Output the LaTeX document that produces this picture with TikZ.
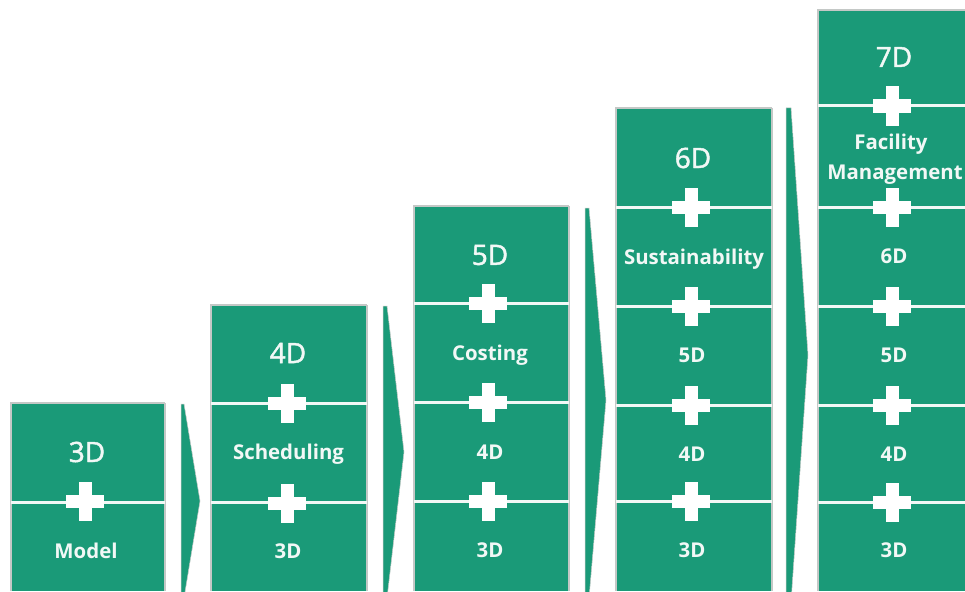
\documentclass[tikz,border=0pt]{standalone}
\usepackage{fontspec}
\setmainfont{Open Sans}
\newfontfamily\bigface[FakeBold=1.6]{Open Sans}
\definecolor{bimgreen}{HTML}{1A9A78}
\definecolor{edgegrey}{HTML}{C4C8C6}
\definecolor{softwhite}{HTML}{F2F8F6}
\tikzset{
  x=1pt,y=-1pt,
  panel/.style={fill=bimgreen,draw=none},
  rim/.style={draw=edgegrey,line width=2.6pt},
  seam/.style={draw=softwhite,line width=3pt},
  chevron/.style={fill=bimgreen,draw=edgegrey,line width=.5pt,line join=round},
  plusarm/.style={fill=white,draw=none},
  big/.style={text=softwhite,inner sep=0pt,font=\fontsize{28}{30}\selectfont\bigface},
  small/.style={text=softwhite,inner sep=0pt,font=\fontsize{20.4}{30}\selectfont\bfseries,align=center},
}
\newcommand{\plusmark}[2]{%
  \fill[plusarm] (#1-19,#2-6.5) rectangle (#1+19,#2+6.5);
  \fill[plusarm] (#1-6.5,#2-19.5) rectangle (#1+6.5,#2+19.5);}
\newcommand{\stackbox}[3]{% left, right, top
  \fill[panel] (#1,#3) rectangle (#2,591);
  \draw[rim] (#1,591) -- (#1,#3) -- (#2,#3);}
\begin{document}
\begin{tikzpicture}
\useasboundingbox (0,0) rectangle (965,591);
\fill[white] (0,0) rectangle (965,591);
% panels
\stackbox{11}{165}{403}
\draw[rim] (165,403) -- (165,591);
\stackbox{211}{367}{305}
\draw[rim] (367,305) -- (367,591);
\stackbox{414}{569}{206}
\draw[rim] (569,206) -- (569,591);
\stackbox{616}{772}{108}
\draw[rim] (772,108) -- (772,591);
\stackbox{818}{966}{10}
% chevrons
\fill[chevron] (181,404) -- (184,404) -- (200,501) -- (184,598) -- (181,598) -- cycle;
\fill[chevron] (383,306) -- (387,306) -- (404,452) -- (387,598) -- (383,598) -- cycle;
\fill[chevron] (585,208) -- (589,208) -- (606,400) -- (589,598) -- (585,598) -- cycle;
\fill[chevron] (786,108) -- (791,108) -- (808,355) -- (791,602) -- (786,602) -- cycle;
% seams
\draw[seam] (11,502) -- (165,502);
\foreach \y in {403,502}{\draw[seam] (211,\y) -- (367,\y);}
\foreach \y in {303,402,501}{\draw[seam] (414,\y) -- (569,\y);}
\foreach \y in {207,306,405,501}{\draw[seam] (616,\y) -- (772,\y);}
\foreach \y in {106,207,306,405,502}{\draw[seam] (818,\y) -- (966,\y);}
% plus marks
\plusmark{85}{501}
\plusmark{287}{403}\plusmark{287}{503}
\plusmark{488}{303}\plusmark{488}{402}\plusmark{488}{501}
\plusmark{691}{207}\plusmark{691}{306}\plusmark{691}{405}\plusmark{691}{501}
\plusmark{892}{106}\plusmark{892}{207}\plusmark{892}{306}\plusmark{892}{405}\plusmark{892}{502}
% labels
\node[big] (a3) at (87,452) {3D};
\node[small] (am) at (86,551) {Model};
\node[big] (b4) at (288,353) {4D};
\node[small] (bs) at (288.5,454) {Scheduling};
\node[small] (b3) at (288,551) {3D};
\node[big] (c5) at (490,255) {5D};
\node[small] (cc) at (490,355) {Costing};
\node[small] (c4) at (490,452) {4D};
\node[small] (c3) at (490,550) {3D};
\node[big] (d6) at (693,158) {6D};
\node[small] (ds) at (694,259) {Sustainability};
\node[small] (d5) at (692,355) {5D};
\node[small] (d4) at (692,454) {4D};
\node[small] (d3) at (692,550) {3D};
\node[big] (e7) at (894,57) {7D};
\node[small] (ef) at (891,144) {Facility};
\node[small] (em) at (895,175) {Management};
\node[small] (e6) at (894,256) {6D};
\node[small] (e5) at (894,355) {5D};
\node[small] (e4) at (894,454) {4D};
\node[small] (e3) at (894,550) {3D};
\end{tikzpicture}
\end{document}
